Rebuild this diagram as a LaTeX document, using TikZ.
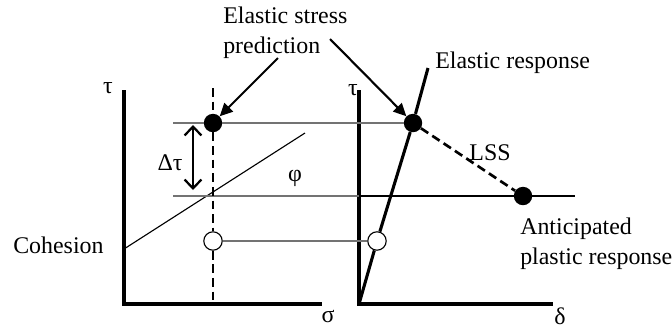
\documentclass[tikz,border=0pt]{standalone}
\usepackage{fontspec}
\setmainfont{Liberation Serif}
\usetikzlibrary{arrows.meta}

\tikzset{
  axis/.style={line width=2.5pt},
  guide/.style={black!55, line width=1.1pt},
  dashline/.style={line width=1.9pt, dash pattern=on 0.22cm off 0.12cm},
  fullpt/.style={circle, fill=black, minimum size=0.46cm, inner sep=0pt},
  openpt/.style={circle, draw=black, fill=white, line width=0.8pt, minimum size=0.46cm, inner sep=0pt},
  callout/.style={line width=1.5pt, -{Triangle[length=0.32cm,width=0.3cm]}},
  lbl/.style={font=\fontsize{17}{21}\selectfont, inner sep=0pt}
}

\begin{document}
\begin{tikzpicture}[x=0.025cm, y=-0.025cm]
\useasboundingbox (0,0) rectangle (672,331);

%POINTS
\node[fullpt] (esL) at (213,123) {};
\node[openpt] (iniL) at (213,241) {};
\node[fullpt] (esR) at (413,123) {};
\node[openpt] (iniR) at (377,241) {};
\node[fullpt] (plast) at (523,196) {};

\coordinate (gl1) at (173,123);
\coordinate (gl2) at (173,196);
\coordinate (axR) at (359,196);
\coordinate (endR) at (575,196);
\coordinate (dashTop) at (213,88);
\coordinate (dashBot) at (213,304);
\coordinate (origR) at (359,304);
\coordinate (erTop) at (428,68);

%LEFT AXES
\draw[axis] (124,90) |- (322,304);
\draw[line width=0.8pt] (124,249) -- (305,133);

%RIGHT AXES
\draw[axis] (359,90) |- (553,304);

%GUIDES
\draw[guide] (gl1) -- (esL) -- (esR);
\draw[guide] (gl2) -- (axR);
\draw[line width=1pt] (axR) -- (plast) -- (endR);
\draw[guide] (iniL) -- (iniR);

\draw[dashline] (dashTop) -- (esL) -- (iniL) -- (dashBot);
\draw[line width=2.2pt] (origR) -- (iniR) -- (esR) -- (erTop);
\draw[dashline] (esR) -- (plast);

\draw[line width=1.6pt, {Straight Barb[length=0.22cm,width=0.42cm]}-{Straight Barb[length=0.22cm,width=0.42cm]}] (193,125) -- (193,190);

%LABELS
\node[lbl, align=left, anchor=west] (pred) at (223,33) {Elastic stress\\prediction};
\coordinate (cL) at (278,58);
\coordinate (cR) at (330,39);
\draw[callout] (cL) -- (esL);
\draw[callout] (cR) -- (esR);

\node[lbl] (tauL) at (108,88) {τ};
\node[lbl] (sigma) at (328,316) {σ};
\node[lbl] (tauR) at (353,90) {τ};
\node[lbl] (delta) at (560,316) {δ};
\node[lbl] (dtau) at (170,163) {Δτ};
\node[lbl] (phi) at (295,178) {φ};
\node[lbl] (lss) at (490,153) {LSS};
\node[lbl, anchor=west] (coh) at (13,245) {Cohesion};
\node[lbl, anchor=west] (er) at (435,63) {Elastic response};
\node[lbl, align=left, anchor=west] (apr) at (520,244) {Anticipated\\plastic response};

\end{tikzpicture}
\end{document}
